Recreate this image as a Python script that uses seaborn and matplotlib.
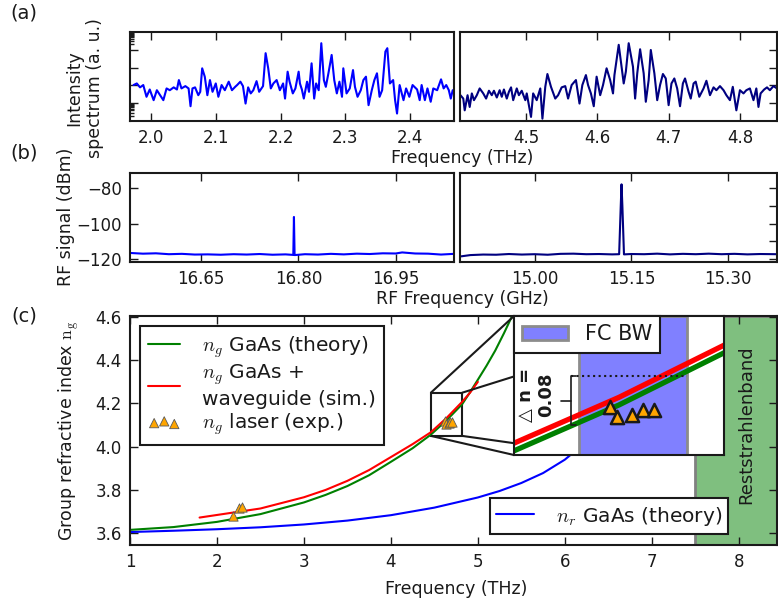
import matplotlib
matplotlib.use("Agg")
import matplotlib.pyplot as plt
import seaborn as sns
from matplotlib.patches import ConnectionPatch
from mpl_toolkits.axes_grid1.inset_locator import mark_inset

# ---------------- data ----------------
# (a) THz intensity spectra, a.u. (log-like scale, 0..5)
spec_lo_freq = [1.973, 1.978, 1.983, 1.988, 1.993, 1.998, 2.004, 2.009, 2.014, 2.019,
                2.024, 2.029, 2.035, 2.040, 2.043, 2.047, 2.053, 2.058, 2.061, 2.064,
                2.068, 2.073, 2.076, 2.079, 2.083, 2.087, 2.091, 2.095, 2.100, 2.104,
                2.109, 2.114, 2.120, 2.125, 2.130, 2.133, 2.138, 2.142, 2.146, 2.150,
                2.154, 2.158, 2.163, 2.167, 2.173, 2.177, 2.181, 2.185, 2.189, 2.194,
                2.199, 2.204, 2.207, 2.211, 2.214, 2.219, 2.223, 2.228, 2.230, 2.233,
                2.236, 2.241, 2.244, 2.248, 2.252, 2.255, 2.259, 2.263, 2.267, 2.270,
                2.274, 2.279, 2.283, 2.287, 2.291, 2.295, 2.297, 2.302, 2.307, 2.312,
                2.315, 2.319, 2.324, 2.328, 2.332, 2.336, 2.341, 2.345, 2.349, 2.353,
                2.357, 2.362, 2.365, 2.369, 2.374, 2.377, 2.380, 2.384, 2.390, 2.394,
                2.399, 2.404, 2.411, 2.415, 2.418, 2.423, 2.427, 2.432, 2.436, 2.442,
                2.448, 2.452, 2.456, 2.460, 2.463, 2.466]
spec_lo_int = [2.02, 2.11, 1.89, 2.02, 1.36, 1.77, 1.17, 1.73, 1.45, 1.17,
               1.83, 1.73, 1.89, 1.77, 2.30, 1.83, 1.96, 1.83, 0.83, 1.83,
               1.89, 1.45, 1.64, 2.96, 2.49, 1.45, 2.30, 1.64, 2.11, 1.36,
               2.02, 1.73, 2.21, 1.73, 1.92, 2.02, 2.21, 1.96, 0.98, 1.89,
               1.55, 1.73, 2.24, 1.64, 1.96, 3.81, 2.96, 1.83, 2.11, 2.30,
               1.73, 2.11, 1.26, 2.77, 2.21, 1.55, 1.83, 2.77, 2.11, 1.77,
               1.26, 2.21, 1.64, 3.24, 1.26, 2.11, 1.73, 4.37, 2.30, 1.92,
               2.68, 3.71, 2.30, 1.55, 2.21, 1.36, 2.96, 1.55, 1.83, 2.86,
               1.92, 1.36, 1.73, 2.30, 2.49, 0.89, 1.73, 2.30, 2.68, 1.36,
               1.73, 3.90, 4.09, 2.11, 2.30, 1.17, 0.42, 2.02, 1.17, 1.83,
               1.36, 2.02, 1.77, 1.17, 2.02, 1.17, 1.83, 1.08, 1.83, 1.73,
               2.34, 1.83, 2.02, 1.73, 1.26, 1.73]

spec_hi_freq = [4.408, 4.412, 4.414, 4.418, 4.421, 4.424, 4.427, 4.431, 4.435, 4.440,
                4.444, 4.448, 4.452, 4.455, 4.459, 4.463, 4.466, 4.469, 4.473, 4.476,
                4.479, 4.482, 4.487, 4.490, 4.494, 4.499, 4.501, 4.507, 4.510, 4.515,
                4.520, 4.523, 4.527, 4.530, 4.535, 4.541, 4.545, 4.550, 4.555, 4.559,
                4.564, 4.570, 4.575, 4.579, 4.584, 4.587, 4.591, 4.595, 4.599, 4.604,
                4.608, 4.613, 4.618, 4.622, 4.624, 4.630, 4.634, 4.637, 4.640, 4.644,
                4.650, 4.653, 4.656, 4.660, 4.665, 4.668, 4.672, 4.675, 4.680, 4.684,
                4.688, 4.692, 4.696, 4.700, 4.704, 4.708, 4.712, 4.716, 4.720, 4.723,
                4.728, 4.731, 4.735, 4.738, 4.743, 4.749, 4.753, 4.758, 4.763, 4.767,
                4.772, 4.777, 4.781, 4.786, 4.790, 4.795, 4.800, 4.805, 4.809, 4.814,
                4.819, 4.823, 4.826, 4.829, 4.834, 4.838, 4.842, 4.847, 4.852]
spec_hi_int = [1.45, 1.26, 0.60, 1.45, 0.79, 1.55, 1.17, 1.45, 1.83, 1.55,
               1.26, 1.70, 1.45, 1.70, 1.32, 1.73, 1.36, 1.77, 1.26, 1.64,
               1.89, 1.17, 1.83, 1.45, 1.70, 1.17, 1.55, 0.23, 1.55, 1.17,
               1.83, 0.13, 1.92, 2.64, 1.92, 1.26, 1.45, 1.89, 1.96, 1.26,
               2.02, 2.30, 0.98, 2.02, 2.58, 2.02, 1.55, 0.83, 2.49, 1.45,
               2.02, 2.96, 2.30, 1.55, 2.58, 4.28, 3.05, 2.11, 2.77, 4.37,
               3.05, 1.26, 2.68, 4.03, 2.68, 1.08, 2.30, 3.99, 2.68, 1.17,
               2.02, 2.64, 2.39, 0.89, 2.11, 2.39, 1.83, 0.83, 2.11, 2.39,
               1.64, 1.26, 2.11, 2.21, 1.36, 1.83, 2.26, 1.45, 1.89, 1.73,
               1.96, 1.73, 1.45, 1.17, 1.92, 0.60, 1.73, 1.55, 1.73, 1.83,
               1.17, 1.83, 0.79, 1.55, 1.77, 1.89, 1.73, 1.96, 1.83]

# (b) RF beat-note spectra (dBm)
rf_lo_freq = [16.54, 16.56, 16.58, 16.60, 16.62, 16.64, 16.66, 16.68, 16.70, 16.72,
              16.74, 16.76, 16.78, 16.792, 16.793, 16.794, 16.81, 16.83, 16.85, 16.87,
              16.89, 16.91, 16.93, 16.95, 16.96, 16.98, 17.00, 17.02, 17.04]
rf_lo_dbm = [-116.6, -117.0, -116.8, -117.3, -117.1, -117.5, -117.4, -117.6, -117.3, -117.5,
             -117.2, -117.6, -117.4, -117.7, -96.3, -117.8, -117.3, -117.5, -117.1, -117.4,
             -117.0, -117.2, -116.8, -116.9, -116.3, -116.9, -117.0, -117.5, -117.1]
rf_hi_freq = [14.886, 14.90, 14.92, 14.94, 14.96, 14.98, 15.00, 15.02, 15.04, 15.06,
              15.08, 15.10, 15.12, 15.131, 15.1335, 15.1347, 15.136, 15.1385, 15.15, 15.17,
              15.19, 15.21, 15.23, 15.25, 15.27, 15.29, 15.31, 15.33, 15.35, 15.375]
rf_hi_dbm = [-118.5, -117.8, -117.5, -117.6, -117.2, -117.5, -117.3, -117.6, -117.1, -117.0,
             -117.3, -117.2, -117.4, -117.3, -90.0, -77.9, -90.0, -117.4, -117.2, -117.3,
             -117.0, -117.4, -117.1, -117.3, -117.0, -117.3, -117.1, -117.4, -117.2, -117.3]

# (c) group / refractive index
ng_theory_freq = [1.0, 1.5, 2.0, 2.5, 3.0, 3.25, 3.5, 3.75, 4.0, 4.25, 4.46, 4.64, 4.82,
                  4.91, 5.0, 5.1, 5.2, 5.3, 5.4]
ng_theory = [3.615, 3.628, 3.652, 3.688, 3.742, 3.777, 3.818, 3.868, 3.930, 3.993, 4.056,
             4.122, 4.197, 4.252, 4.310, 4.375, 4.445, 4.525, 4.610]
ng_sim_freq = [1.8, 2.0, 2.5, 3.0, 3.25, 3.5, 3.75, 4.0, 4.25, 4.46, 4.64, 4.82, 4.91, 5.0]
ng_sim = [3.672, 3.684, 3.714, 3.766, 3.800, 3.842, 3.892, 3.952, 4.012, 4.067, 4.133,
          4.208, 4.250, 4.300]
nr_theory_freq = [1.0, 1.5, 2.0, 2.5, 3.0, 3.5, 4.0, 4.5, 5.0, 5.25, 5.5, 5.75, 6.0, 6.15, 6.3]
nr_theory = [3.605, 3.611, 3.618, 3.627, 3.640, 3.658, 3.683, 3.718, 3.765, 3.795, 3.832,
             3.878, 3.940, 3.990, 4.050]
ng_exp_freq = [2.18, 2.25, 2.29, 4.624, 4.636, 4.663, 4.681, 4.700]
ng_exp = [3.680, 3.715, 3.720, 4.119, 4.105, 4.108, 4.115, 4.115]

fc_bw = (4.572, 4.756)
reststrahlen = (7.5, 9.0)
zoom_freq = (4.46, 4.82)
zoom_n = (4.05, 4.25)
dn_top, dn_bottom, dn_x = 4.163, 4.093, 4.558

# ---------------- style ----------------
sns.set_theme(style="ticks")
plt.rcParams.update({
    "font.family": ["DejaVu Sans"],
    "mathtext.fontset": "cm",
    "axes.linewidth": 1.5,
    "axes.edgecolor": "k",
    "text.color": "k",
    "xtick.color": "k", "ytick.color": "k",
    "xtick.direction": "in", "ytick.direction": "in",
    "xtick.major.size": 6, "ytick.major.size": 6,
    "xtick.minor.size": 3, "ytick.minor.size": 3,
    "xtick.major.width": 1, "ytick.major.width": 1,
    "xtick.minor.width": 1, "ytick.minor.width": 1,
    "xtick.major.pad": 6, "ytick.major.pad": 6,
    "xtick.labelsize": 12, "ytick.labelsize": 12,
    "legend.fancybox": False, "legend.edgecolor": "k", "legend.framealpha": 1,
})

W, H = 778, 605
fig = plt.figure(figsize=(W / 100, H / 100), dpi=100)


def box(x0, y0, x1, y1):
    return [x0 / W, 1 - y1 / H, (x1 - x0) / W, (y1 - y0) / H]


ax_a1 = fig.add_axes(box(130, 32, 454, 121))
ax_a2 = fig.add_axes(box(460, 32, 777, 121))
ax_b1 = fig.add_axes(box(130, 173, 454, 262))
ax_b2 = fig.add_axes(box(460, 173, 777, 262))
ax_c = fig.add_axes(box(130, 316, 777, 545))

# ---------------- (a) ----------------
sns.lineplot(x=spec_lo_freq, y=spec_lo_int, ax=ax_a1, color="#0000ff", lw=1.5)
sns.lineplot(x=spec_hi_freq, y=spec_hi_int, ax=ax_a2, color="#000080", lw=1.5)
ax_a1.set_xlim(1.9675, 2.468)
ax_a2.set_xlim(4.4074, 4.852)
log_minor = [0.301, 0.477, 0.602, 0.699, 0.778, 0.845, 0.903, 0.954]
for ax in (ax_a1, ax_a2):
    ax.set_ylim(0, 5)
    ax.set_yticks([1, 2, 3, 4])
    ax.tick_params(axis="y", labelleft=False, labelright=False)
ax_a1.set_yticks(log_minor + [4 + v for v in log_minor], minor=True)
ax_a1.tick_params(axis="y", which="both", left=True, right=False)
ax_a2.tick_params(axis="y", which="both", left=False, right=True)
ax_a1.set_xticks([2.0, 2.1, 2.2, 2.3, 2.4])
ax_a1.set_xticklabels(["2.0", "2.1", "2.2", "2.3", "2.4"])
ax_a2.set_xticks([4.5, 4.6, 4.7, 4.8])
ax_a2.set_xticklabels(["4.5", "4.6", "4.7", "4.8"])

# ---------------- (b) ----------------
sns.lineplot(x=rf_lo_freq, y=rf_lo_dbm, ax=ax_b1, color="#0000ff", lw=1.5)
sns.lineplot(x=rf_hi_freq, y=rf_hi_dbm, ax=ax_b2, color="#000080", lw=1.5)
ax_b1.set_xlim(16.54, 17.04)
ax_b2.set_xlim(14.884, 15.376)
for ax in (ax_b1, ax_b2):
    ax.set_ylim(-121.7, -71.5)
ax_b1.set_yticks([-80, -100, -120])
ax_b1.tick_params(axis="y", left=True, right=False)
ax_b2.set_yticks([-80, -90, -100, -110, -120])
ax_b2.tick_params(axis="y", left=False, right=True, labelleft=False)
ax_b1.set_xticks([16.65, 16.80, 16.95])
ax_b1.set_xticklabels(["16.65", "16.80", "16.95"])
ax_b2.set_xticks([15.00, 15.15, 15.30])
ax_b2.set_xticklabels(["15.00", "15.15", "15.30"])

for ax in (ax_a1, ax_a2, ax_b1, ax_b2, ax_c):
    ax.set_xlabel("")
    ax.set_ylabel("")
    ax.tick_params(axis="x", top=True, bottom=True)
    for s in ax.spines.values():
        s.set_visible(True)
        s.set_linewidth(1.5)

# ---------------- (c) ----------------
ax_c.axvspan(*reststrahlen, facecolor="green", alpha=0.5, lw=0, zorder=0)
ax_c.axvspan(*reststrahlen, facecolor="none", edgecolor="0.5", lw=2, zorder=0)
sns.lineplot(x=nr_theory_freq, y=nr_theory, ax=ax_c, color="#0000ff", lw=1.5)
h_nr = ax_c.lines[-1]
sns.lineplot(x=ng_theory_freq, y=ng_theory, ax=ax_c, color="green", lw=1.5)
h_th = ax_c.lines[-1]
sns.lineplot(x=ng_sim_freq, y=ng_sim, ax=ax_c, color="red", lw=1.5)
h_sim = ax_c.lines[-1]
sns.scatterplot(x=ng_exp_freq, y=ng_exp, ax=ax_c, marker="^", s=45, color="orange",
                edgecolor="0.35", linewidth=0.6, zorder=5)
h_exp = ax_c.collections[-1]
ax_c.text(8.09, 4.10, "Reststrahlenband", rotation=90, ha="center", va="center", fontsize=13)

ax_c.set_xlim(1, 8.44)
ax_c.set_ylim(3.545, 4.605)
ax_c.set_xticks(range(1, 9))
ax_c.set_yticks([3.6, 3.8, 4.0, 4.2, 4.4, 4.6])
ax_c.set_yticklabels(["3.6", "3.8", "4.0", "4.2", "4.4", "4.6"])
ax_c.tick_params(axis="y", left=True, right=True)

leg1 = ax_c.legend([h_th, h_sim, h_exp],
                   ["$n_g$ GaAs (theory)", "$n_g$ GaAs +\nwaveguide (sim.)", "$n_g$ laser (exp.)"],
                   loc="upper left", fontsize=14.5, handlelength=1.6, handletextpad=1.1,
                   scatterpoints=3, labelspacing=0.12, borderpad=0.4)
leg1.get_frame().set_linewidth(1.5)
ax_c.add_artist(leg1)
leg2 = ax_c.legend([h_nr], ["$n_r$ GaAs (theory)"], loc="lower right",
                   bbox_to_anchor=(0.925, 0.05), borderaxespad=0, fontsize=14.5,
                   handlelength=1.9, handletextpad=1.1, borderpad=0.3)
leg2.get_frame().set_linewidth(1.5)

# inset
axins = fig.add_axes(box(514, 316, 724, 455))
band = axins.axvspan(*fc_bw, facecolor="#8080ff", edgecolor="0.55", lw=2, label="FC BW")
sns.lineplot(x=ng_theory_freq, y=ng_theory, ax=axins, color="green", lw=3.8)
sns.lineplot(x=ng_sim_freq, y=ng_sim, ax=axins, color="red", lw=3.8)
sns.scatterplot(x=ng_exp_freq, y=ng_exp, ax=axins, marker="^", s=90, color="orange",
                edgecolor="k", linewidth=1.8, zorder=5)
axins.hlines(dn_top, dn_x, fc_bw[1], colors="k", linestyles="dotted", lw=1.5)
dn_mid = (dn_top + dn_bottom) / 2
axins.plot([dn_x + 0.008, dn_x, dn_x, dn_x + 0.008], [dn_top, dn_top, dn_bottom, dn_bottom],
           color="k", lw=1.2)
axins.plot([dn_x - 0.017, dn_x], [dn_mid, dn_mid], color="k", lw=1.2)
axins.text(4.498, 4.137, "\u25b3 n =\n0.08", rotation=90, ha="center", va="center",
           fontsize=13, fontweight="bold", multialignment="center")
axins.set_xlim(*zoom_freq)
axins.set_ylim(*zoom_n)
axins.set_xticks([])
axins.set_yticks([])
axins.set_xlabel("")
axins.set_ylabel("")
for s in axins.spines.values():
    s.set_linewidth(1.5)
leg3 = axins.legend([band], ["FC BW"], loc="upper left", borderaxespad=0, fontsize=15,
                    handlelength=2.2, handletextpad=0.8)
leg3.get_frame().set_linewidth(1.5)

mark_inset(ax_c, axins, loc1=2, loc2=3, fc="none", ec="k", lw=1.5)
for xy_a, xy_b in [((zoom_freq[1], zoom_n[1]), (zoom_freq[0], dn_top)),
                   ((zoom_freq[1], zoom_n[0]), (zoom_freq[0], 4.067))]:
    con = ConnectionPatch(xyA=xy_a, coordsA=ax_c.transData, xyB=xy_b,
                          coordsB=axins.transData, color="k", lw=1.5)
    fig.add_artist(con)

# ---------------- labels ----------------
fs = 12.5
fig.text(24 / W, 1 - 13 / H, "(a)", fontsize=14, ha="center", va="center")
fig.text(24 / W, 1 - 153 / H, "(b)", fontsize=14, ha="center", va="center")
fig.text(24 / W, 1 - 316 / H, "(c)", fontsize=14, ha="center", va="center")
fig.text(85 / W, 1 - 88 / H, "Intensity\nspectrum (a. u.)", rotation=90, ha="center",
         va="center", fontsize=fs, multialignment="center")
fig.text(66 / W, 1 - 217 / H, "RF signal (dBm)", rotation=90, ha="center", va="center",
         fontsize=fs)
fig.text(69 / W, 1 - 431 / H, r"Group refractive index $\mathrm{n_g}$", rotation=90,
         ha="center", va="center", fontsize=fs)
fig.text(462 / W, 1 - 158 / H, "Frequency (THz)", ha="center", va="center", fontsize=fs)
fig.text(462 / W, 1 - 299 / H, "RF Frequency (GHz)", ha="center", va="center", fontsize=fs)
fig.text(456 / W, 1 - 589 / H, "Frequency (THz)", ha="center", va="center", fontsize=fs)

fig.savefig("out.png", dpi=100)
